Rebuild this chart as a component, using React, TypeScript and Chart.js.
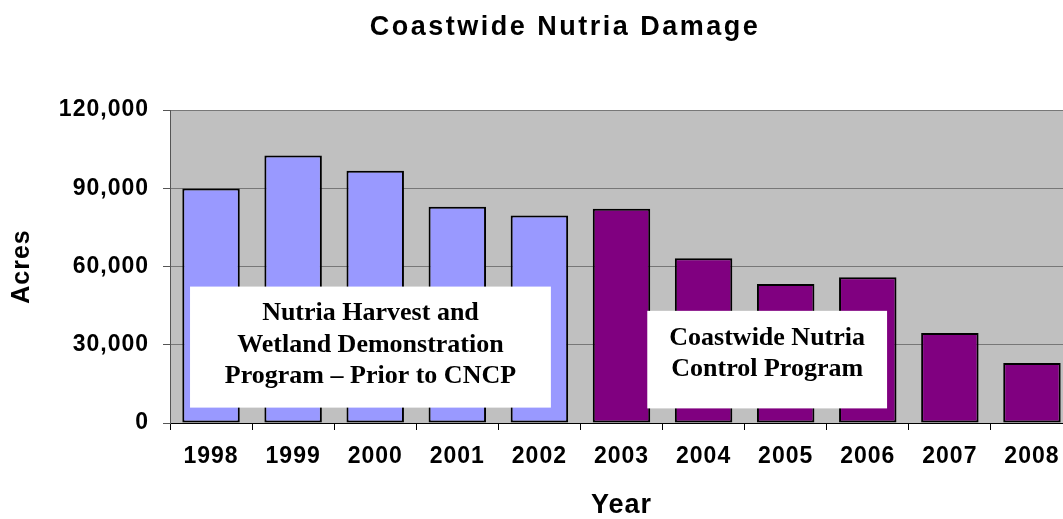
import React, { useEffect, useRef } from "react";
import { Chart, registerables } from "chart.js";

Chart.register(...registerables);

// ---- data ----
const years = ["1998", "1999", "2000", "2001", "2002", "2003", "2004", "2005", "2006", "2007", "2008"];
const acres = [89900, 102600, 96700, 82900, 79600, 82100, 63200, 53300, 55900, 34500, 23000];
// program phase per year: 0 = Harvest & Wetland Demonstration, 1 = CNCP
const phase = [0, 0, 0, 0, 0, 1, 1, 1, 1, 1, 1];
const phaseColors = ["#9999FF", "#800080"];
const yTicks = [0, 30000, 60000, 90000, 120000];
const chartTitle = "Coastwide Nutria Damage";

// annotation boxes (category-index units on x, acres on y)
const noteLines = [
  ["Nutria Harvest and", "Wetland Demonstration", "Program \u2013 Prior to CNCP"],
  ["Coastwide Nutria", "Control Program"],
];
const noteX = [
  [-0.256, 4.14],
  [5.314, 8.235],
];
const noteY = [
  [52300, 5900],
  [43000, 5600],
];

const SANS = "'Liberation Sans', Arial, sans-serif";
const SERIF = "'Liberation Serif', 'Times New Roman', serif";

const spacingPlugin = {
  id: "spacing",
  beforeUpdate(chart: any) {
    chart.ctx.letterSpacing = "1px";
  },
  beforeLayout(chart: any) {
    chart.ctx.letterSpacing = "1px";
  },
  beforeDraw(chart: any) {
    chart.ctx.letterSpacing = "1px";
  },
};

const bgPlugin = {
  id: "plotBg",
  beforeDraw(chart: any) {
    const { ctx, chartArea } = chart;
    ctx.save();
    ctx.fillStyle = "#C0C0C0";
    ctx.fillRect(chartArea.left, chartArea.top, chartArea.right - chartArea.left, chartArea.bottom - chartArea.top);
    ctx.restore();
  },
};

const titlePlugin = {
  id: "customTitle",
  afterDraw(chart: any) {
    const { ctx } = chart;
    ctx.save();
    ctx.letterSpacing = "2.5px";
    ctx.font = `bold 27px ${SANS}`;
    ctx.fillStyle = "#000";
    ctx.textAlign = "center";
    ctx.textBaseline = "middle";
    ctx.fillText(chartTitle, 565, 28);
    ctx.restore();
  },
};

const notePlugin = {
  id: "notes",
  afterDatasetsDraw(chart: any) {
    const { ctx } = chart;
    const xs = chart.scales.x;
    const ys = chart.scales.y;
    ctx.save();
    ctx.letterSpacing = "0px";
    noteLines.forEach((lines, i) => {
      const x1 = xs.getPixelForValue(noteX[i][0]);
      const x2 = xs.getPixelForValue(noteX[i][1]);
      const y1 = ys.getPixelForValue(noteY[i][0]);
      const y2 = ys.getPixelForValue(noteY[i][1]);
      ctx.fillStyle = "#FFFFFF";
      ctx.fillRect(x1, y1, x2 - x1, y2 - y1);
      ctx.fillStyle = "#000000";
      ctx.font = `bold 26px ${SERIF}`;
      ctx.textAlign = "center";
      ctx.textBaseline = "middle";
      const cx = (x1 + x2) / 2;
      lines.forEach((t, k) => {
        ctx.fillText(t, cx, y1 + 27 + k * 31.5);
      });
    });
    ctx.restore();
  },
};

export default function App() {
  const ref = useRef<HTMLCanvasElement | null>(null);

  useEffect(() => {
    if (!ref.current) return;
    const chart = new Chart(ref.current, {
      type: "bar",
      data: {
        labels: years,
        datasets: [
          {
            label: "Acres",
            data: acres,
            backgroundColor: phase.map((p) => phaseColors[p]),
            borderColor: "#000000",
            borderWidth: 2,
            borderSkipped: false,
            barPercentage: 0.7,
            categoryPercentage: 1,
          },
        ],
      },
      options: {
        animation: false,
        responsive: false,
        devicePixelRatio: 1,
        layout: { padding: { left: 0, right: 2, top: 110, bottom: 0 } },
        plugins: {
          legend: { display: false },
          tooltip: { enabled: false },
          title: { display: false },
        },
        scales: {
          x: {
            grid: { drawOnChartArea: false, drawTicks: true, tickLength: 7, tickColor: "#000" },
            border: { color: "#000", width: 1 },
            ticks: {
              color: "#000",
              padding: 13,
              maxRotation: 0,
              autoSkip: false,
              font: { family: SANS, size: 23, weight: "bold" },
            },
            title: {
              display: true,
              text: "Year",
              color: "#000",
              font: { family: SANS, size: 27, weight: "bold", lineHeight: 1 },
              padding: { top: 0, bottom: 0 },
            },
            afterFit(scale: any) {
              scale.height = 96;
            },
          },
          y: {
            min: 0,
            max: 120000,
            afterBuildTicks(scale: any) {
              scale.ticks = yTicks.map((v) => ({ value: v }));
            },
            grid: { color: "#777", lineWidth: 1, drawTicks: true, tickLength: 7, tickColor: "#555" },
            border: { color: "#555", width: 1 },
            ticks: {
              color: "#000",
              padding: 14,
              font: { family: SANS, size: 23, weight: "bold" },
              callback: (v: any) => Number(v).toLocaleString("en-US"),
            },
            title: {
              display: true,
              text: "Acres",
              color: "#000",
              font: { family: SANS, size: 25, weight: "bold", lineHeight: 1 },
              padding: { top: 10, bottom: 0 },
            },
            afterFit(scale: any) {
              scale.width = 170;
            },
          },
        },
      },
      plugins: [spacingPlugin, bgPlugin, notePlugin, titlePlugin],
    });
    return () => chart.destroy();
  }, []);

  return (
    <div style={{ position: "fixed", left: 0, top: 0, width: 1063, height: 519, overflow: "hidden", background: "#fff" }}>
      <canvas ref={ref} width={1075} height={519} style={{ display: "block" }} />
    </div>
  );
}
